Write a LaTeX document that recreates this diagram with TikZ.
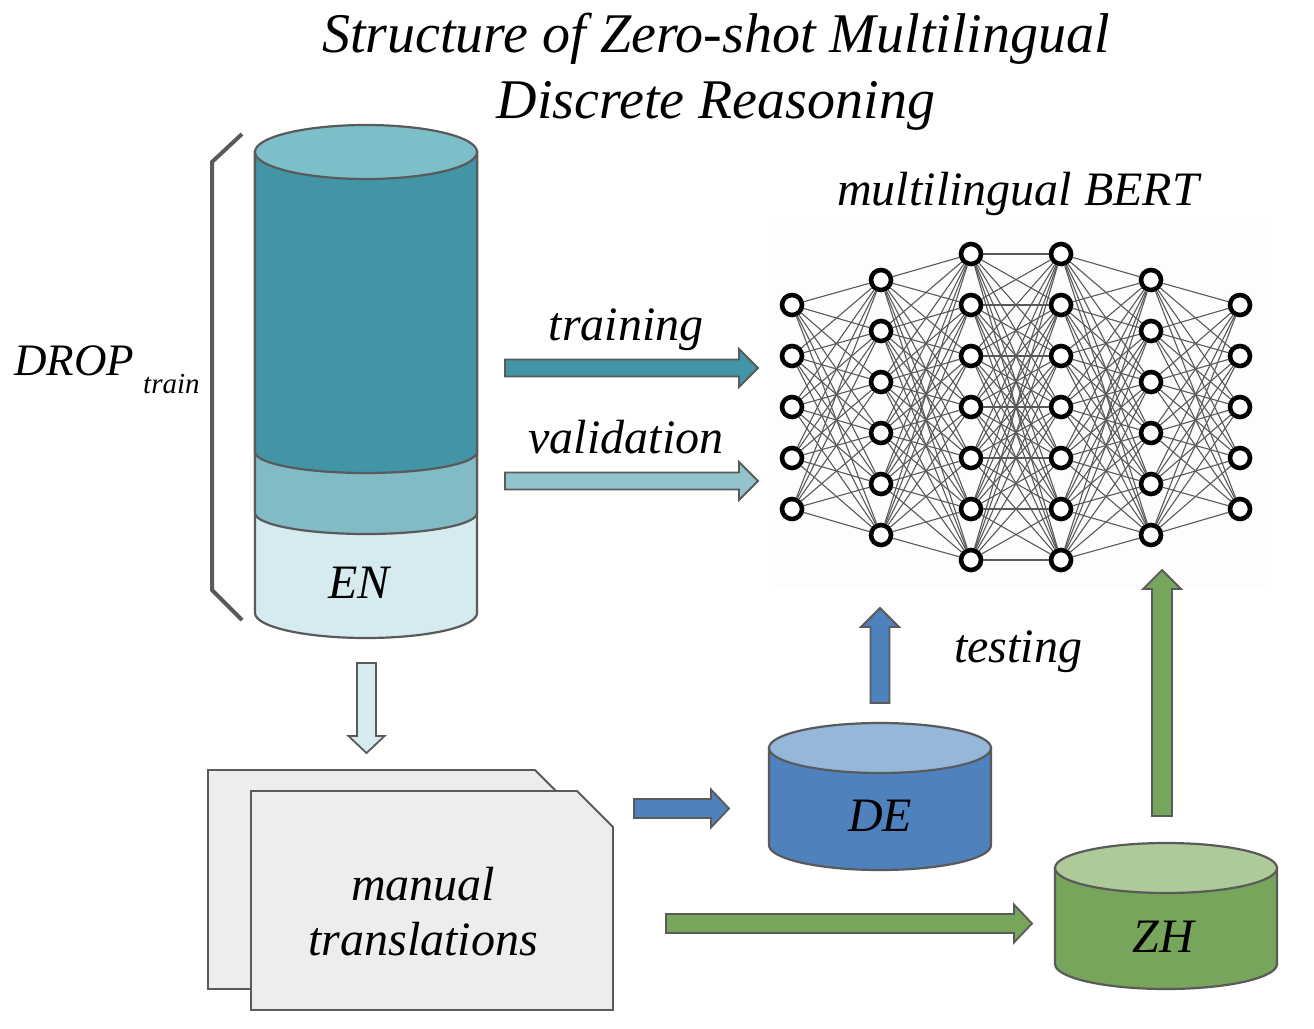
\documentclass[tikz,border=0pt]{standalone}
\usepackage{fontspec}
\setmainfont{Liberation Serif}
\definecolor{strokegray}{HTML}{5A5A5A}
\definecolor{entop}{HTML}{7DBFC9}
\definecolor{endark}{HTML}{4294A7}
\definecolor{enmid}{HTML}{81BBC6}
\definecolor{enlight}{HTML}{D5EBF0}
\definecolor{valcol}{HTML}{93C4CD}
\definecolor{detop}{HTML}{95B7DA}
\definecolor{debody}{HTML}{4F81BD}
\definecolor{zhtop}{HTML}{ADCA98}
\definecolor{zhbody}{HTML}{77A55B}
\definecolor{docfill}{HTML}{EDEDED}
\definecolor{panel}{HTML}{FDFDFD}
\tikzset{
  cyl/.style={draw=strokegray, line width=2.2pt},
  blockarrow/.style={draw=strokegray, line width=1.8pt, line join=miter},
  docshape/.style={draw=strokegray, line width=1.8pt, fill=docfill},
  neuron/.style={circle, draw=black, line width=4.6pt, fill=white, minimum size=20pt, inner sep=0pt},
  nnedge/.style={draw=black!65, line width=1.1pt},
  lbl/.style={font=\fontsize{48}{54}\selectfont\itshape, inner sep=0pt, anchor=base},
  ttl/.style={font=\fontsize{56}{62}\selectfont\itshape, inner sep=0pt, anchor=base},
}
% right block arrow: x1, xheadbase, xtip, yc, shaft half, head half, colour
\newcommand\rblockarrow[7]{\draw[blockarrow, fill=#7] (#1,#4-#5) -- (#2,#4-#5) -- (#2,#4-#6) -- (#3,#4) -- (#2,#4+#6) -- (#2,#4+#5) -- (#1,#4+#5) -- cycle;}
% up block arrow: xc, ybottom, yheadbase, ytip, shaft half, head half, colour
\newcommand\ublockarrow[7]{\draw[blockarrow, fill=#7] (#1-#5,#2) -- (#1-#5,#3) -- (#1-#6,#3) -- (#1,#4) -- (#1+#6,#3) -- (#1+#5,#3) -- (#1+#5,#2) -- cycle;}
% down block arrow: xc, ytop, yheadbase, ytip, shaft half, head half, colour
\newcommand\dblockarrow[7]{\draw[blockarrow, fill=#7] (#1-#5,#2) -- (#1-#5,#3) -- (#1-#6,#3) -- (#1,#4) -- (#1+#6,#3) -- (#1+#5,#3) -- (#1+#5,#2) -- cycle;}
\begin{document}
\begin{tikzpicture}[x=1pt, y=-1pt]
\useasboundingbox (0,0) rectangle (1314,1028);
\fill[white] (0,0) rectangle (1314,1028);

% title
\node[ttl] (title1) at (716,52) {Structure of Zero-shot Multilingual};
\node[ttl] (title2) at (716,118) {Discrete Reasoning};

% ---------------- EN cylinder ----------------
\filldraw[cyl, fill=enlight] (255,152) -- (255,613) arc[start angle=180, end angle=0, x radius=111, y radius=25] -- (477,152) -- cycle;
\filldraw[cyl, fill=enmid] (255,152) -- (255,513) arc[start angle=180, end angle=0, x radius=111, y radius=21] -- (477,152) -- cycle;
\filldraw[cyl, fill=endark] (255,152) -- (255,452) arc[start angle=180, end angle=0, x radius=111, y radius=21] -- (477,152) -- cycle;
\filldraw[cyl, fill=entop] (366,152) ellipse[x radius=111, y radius=27];
\node[lbl] (en) at (359,598) {EN};

% bracket
\draw[strokegray, line width=4pt] (242,134) -- (212,162) -- (212,590) -- (242,620);
\node[font=\fontsize{45}{50}\selectfont\itshape, inner sep=0pt, anchor=base west] (drop) at (14,375) {DROP};
\node[font=\fontsize{29}{33}\selectfont\itshape, inner sep=0pt, anchor=base west] (droptrain) at (143,393) {train};

% ---------------- network ----------------
\fill[panel] (770,222) rectangle (1265,587);
\node[font=\fontsize{48}{54}\selectfont\itshape, inner sep=0pt, anchor=base] (bert) at (1018,205) {multilingual BERT};
\foreach \L/\x/\n/\ys in {1/792/5/305, 2/881/6/280, 3/971/7/254, 4/1061/7/254, 5/1151/6/280, 6/1240/5/305}{
  \foreach \i in {1,...,\n}{
    \node[neuron] (n\L-\i) at (\x,{\ys+(\i-1)*51}) {};
  }
}
\foreach \a/\na/\b/\nb in {1/5/2/6, 2/6/3/7, 3/7/4/7, 4/7/5/6, 5/6/6/5}{
  \foreach \i in {1,...,\na}{
    \foreach \j in {1,...,\nb}{
      \draw[nnedge] (n\a-\i) -- (n\b-\j);
    }
  }
}

% training / validation
\node[lbl] (training) at (626,340) {training};
\rblockarrow{505}{739}{758}{368}{8.5}{19}{endark}
\node[lbl] (validation) at (626,453) {validation};
\rblockarrow{505}{739}{758}{481}{8.5}{19}{valcol}

% down arrow from EN
\dblockarrow{366.5}{663}{736}{753}{9.5}{18}{enlight}

% documents
\draw[docshape] (208,770) -- (535,770) -- (571,806) -- (571,989) -- (208,989) -- cycle;
\draw[docshape] (251,791) -- (577,791) -- (613,827) -- (613,1010) -- (251,1010) -- cycle;
\node[lbl] (manual) at (423,900) {manual};
\node[lbl] (translations) at (423,955) {translations};

% DE cylinder
\filldraw[cyl, fill=debody] (769,748) -- (769,845) arc[start angle=180, end angle=0, x radius=111, y radius=25] -- (991,748) -- cycle;
\filldraw[cyl, fill=detop] (880,748) ellipse[x radius=111, y radius=25];
\node[lbl] (de) at (880,831) {DE};

% ZH cylinder
\filldraw[cyl, fill=zhbody] (1055,868) -- (1055,964) arc[start angle=180, end angle=0, x radius=111, y radius=25] -- (1277,868) -- cycle;
\filldraw[cyl, fill=zhtop] (1166,868) ellipse[x radius=111, y radius=25];
\node[lbl] (zh) at (1163,952) {ZH};

% arrows to DE, ZH and testing
\rblockarrow{634}{711}{729}{808.5}{9.5}{19}{debody}
\rblockarrow{666}{1014}{1032}{923.5}{9.5}{19}{zhbody}
\ublockarrow{880}{703}{627}{608}{9.5}{19}{debody}
\ublockarrow{1162}{816}{589}{570}{10}{19}{zhbody}
\node[lbl] (testing) at (1018,662) {testing};
\end{tikzpicture}
\end{document}
